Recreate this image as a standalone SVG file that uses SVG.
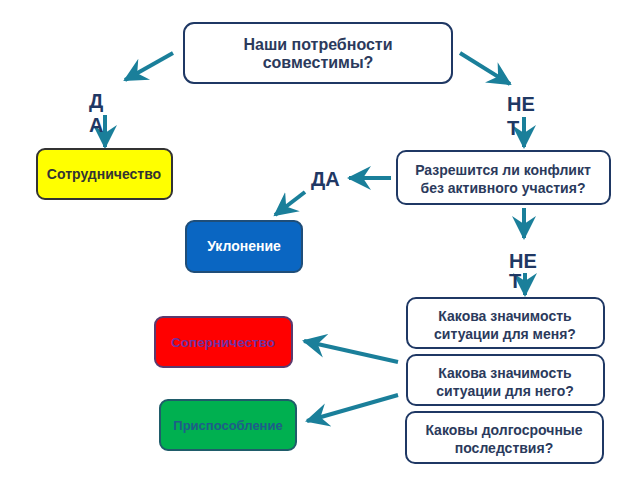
<svg xmlns="http://www.w3.org/2000/svg" width="640" height="480" viewBox="0 0 640 480">
<defs>
<style>
.q{fill:#ffffff;stroke:#1f3864;stroke-width:2}
.t{font-family:"Liberation Sans",Arial,sans-serif;font-weight:bold;font-size:14px;fill:#2b3a5c;text-anchor:middle}
.lbl{font-family:"Liberation Sans",Arial,sans-serif;font-weight:bold;font-size:20px;fill:#1f3864}
.c{stroke:#1a7f9a;stroke-width:4;fill:none;marker-end:url(#ah)}
</style>
<marker id="ah" markerUnits="userSpaceOnUse" markerWidth="26" markerHeight="26" refX="22" refY="12" orient="auto" viewBox="0 0 26 24">
<path d="M0,0 L24,12 L0,24 L8,12 Z" fill="#1a7f9a"/>
</marker>
</defs>
<rect width="640" height="480" fill="#ffffff"/>

<g id="connectors">
<line class="c" x1="173" y1="53" x2="125" y2="80"/>
<line class="c" x1="105" y1="115" x2="105" y2="147"/>
<line class="c" x1="460" y1="53" x2="510" y2="84"/>
<line class="c" x1="524" y1="117" x2="524" y2="147"/>
<line class="c" x1="391" y1="178" x2="349" y2="178"/>
<line class="c" x1="305" y1="192" x2="275" y2="215"/>
<line class="c" x1="524" y1="208" x2="524" y2="238"/>
<line class="c" x1="525" y1="273" x2="525" y2="295"/>
<line class="c" x1="398" y1="362" x2="304" y2="341"/>
<line class="c" x1="398" y1="395" x2="307" y2="421"/>
</g>

<g id="labels">
<text class="lbl" x="89" y="108">Д</text>
<text class="lbl" x="89" y="132">А</text>
<text class="lbl" x="507" y="111">НЕ</text>
<text class="lbl" x="507" y="135">Т</text>
<text class="lbl" x="311" y="186">ДА</text>
<text class="lbl" x="509" y="268">НЕ</text>
<text class="lbl" x="509" y="288">Т</text>
</g>

<g id="needs">
<rect class="q" x="184" y="23" width="268" height="60" rx="10"/>
<text class="t" x="318" y="50" style="font-size:16px">Наши потребности</text>
<text class="t" x="318" y="68" style="font-size:16px">совместимы?</text>
</g>

<g id="coop">
<rect x="37" y="149" width="135" height="50" rx="8" fill="#ffff00" stroke="#333333" stroke-width="2"/>
<text class="t" x="104" y="179" style="fill:#333333">Сотрудничество</text>
</g>

<g id="resolve">
<rect class="q" x="397" y="151" width="213" height="53" rx="9"/>
<text class="t" x="503" y="175">Разрешится ли конфликт</text>
<text class="t" x="503" y="193">без активного участия?</text>
</g>

<g id="avoid">
<rect x="186" y="221" width="116" height="51" rx="8" fill="#0a66c2" stroke="#1f4e79" stroke-width="2"/>
<text class="t" x="244" y="251" style="fill:#ffffff">Уклонение</text>
</g>

<g id="me">
<rect class="q" x="407" y="298" width="197" height="50" rx="9"/>
<text class="t" x="505" y="321">Какова значимость</text>
<text class="t" x="505" y="339">ситуации для меня?</text>
</g>

<g id="him">
<rect class="q" x="407" y="355" width="197" height="50" rx="9"/>
<text class="t" x="505" y="378">Какова значимость</text>
<text class="t" x="505" y="396">ситуации для него?</text>
</g>

<g id="longterm">
<rect class="q" x="406" y="412" width="197" height="51" rx="9"/>
<text class="t" x="504" y="435">Каковы долгосрочные</text>
<text class="t" x="504" y="453">последствия?</text>
</g>

<g id="compete">
<rect x="155" y="317" width="137" height="50" rx="8" fill="#ff0000" stroke="#5a3a6e" stroke-width="2"/>
<text class="t" x="223" y="347" style="font-size:13.5px;fill:#7030a0">Соперничество</text>
</g>

<g id="adapt">
<rect x="160" y="400" width="136" height="50" rx="8" fill="#00b050" stroke="#1f5c6a" stroke-width="2"/>
<text class="t" x="228" y="430" style="font-size:13px;fill:#1f5c8a">Приспособление</text>
</g>
</svg>
